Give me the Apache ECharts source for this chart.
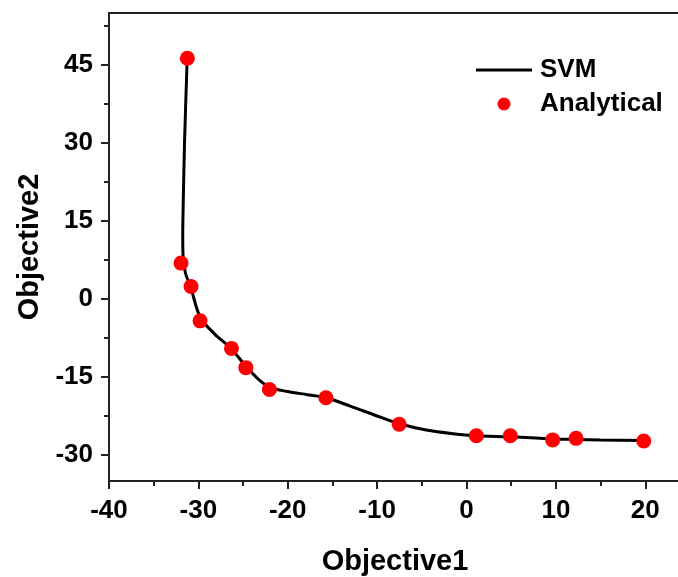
<!DOCTYPE html>
<html>
<head>
<meta charset="utf-8">
<script src="https://cdn.jsdelivr.net/npm/echarts@6/dist/echarts.min.js"></script>
<style>
  html, body { margin: 0; padding: 0; background: #fff; }
  #main { width: 678px; height: 577px; }
</style>
</head>
<body>
<div id="main"></div>
<script>
// analytical pareto points
var analyticalX = [-31.23, -31.94, -30.82, -29.81, -26.3, -24.69, -22.05, -15.73, -7.53, 1.1, 4.9, 9.64, 12.26, 19.83];
var analyticalY = [46.3, 6.9, 2.4, -4.2, -9.5, -13.2, -17.4, -19.0, -24.1, -26.3, -26.3, -27.1, -26.8, -27.3];

// SVM front
var svmX = [-31.25, -31.55, -31.7, -31.75, -31.7, -31.45, -30.85, -29.8, -28.2, -26.3, -24.7, -23.3, -22.0, -20.0, -17.8, -15.7, -13.0, -10.0, -7.5, -4.5, -1.5, 1.1, 4.9, 9.6, 12.3, 15.0, 19.8];
var svmY = [46.3, 30.0, 18.0, 12.0, 8.0, 5.0, 2.2, -3.5, -6.7, -9.6, -12.9, -15.4, -17.0, -17.8, -18.4, -19.0, -20.6, -22.5, -24.0, -25.2, -25.9, -26.3, -26.5, -26.9, -27.0, -27.1, -27.2];

var xTicks = [-40, -30, -20, -10, 0, 10, 20];
var xMinor = [-35, -25, -15, -5, 5, 15];
var yTicks = [-30, -15, 0, 15, 30, 45];
var yMinor = [-22.5, -7.5, 7.5, 22.5, 37.5, 52.5];

var chart = echarts.init(document.getElementById('main'));

var axisColor = '#222';
var tickFont = { fontFamily: 'Liberation Sans', fontWeight: 'bold', fontSize: 26, color: '#000' };
var titleFont = { fontFamily: 'Liberation Sans', fontWeight: 'bold', fontSize: 29, color: '#000' };

function pairs(xs, ys) {
  return xs.map(function (x, i) { return [x, ys[i]]; });
}

chart.setOption({
  animation: false,
  backgroundColor: '#fff',
  grid: { left: 109, top: 13, bottom: 96, right: -3, containLabel: false, outerBoundsMode: 'none' },
  legend: {
    orient: 'vertical',
    left: 471,
    top: 52,
    itemWidth: 56,
    itemHeight: 13,
    itemGap: 8,
    textStyle: { fontFamily: 'Liberation Sans', fontWeight: 'bold', fontSize: 26, color: '#000', lineHeight: 26, padding: [0, 0, 0, 3] },
    data: [
      { name: 'SVM', icon: 'path://M0,0L56,0L56,3L0,3Z', itemStyle: { color: '#000' } },
      { name: 'Analytical', icon: 'circle', itemStyle: { color: '#ff0000' } }
    ]
  },
  xAxis: [
    {
      type: 'value', min: -40, max: 24, position: 'bottom',
      name: 'Objective1', nameLocation: 'middle', nameGap: 66, nameTextStyle: titleFont,
      axisLine: { onZero: false, lineStyle: { color: axisColor, width: 2 } },
      axisTick: { customValues: xTicks, length: 8, lineStyle: { color: axisColor, width: 2 } },
      axisLabel: { customValues: xTicks, margin: 17, textStyle: tickFont },
      splitLine: { show: false }
    },
    {
      type: 'value', min: -40, max: 24, position: 'bottom',
      axisLine: { show: false, onZero: false },
      axisTick: { customValues: xMinor, length: 5, lineStyle: { color: axisColor, width: 2 } },
      axisLabel: { show: false },
      splitLine: { show: false }
    },
    {
      type: 'value', min: -40, max: 24, position: 'top',
      axisLine: { onZero: false, lineStyle: { color: axisColor, width: 2 } },
      axisTick: { show: false },
      axisLabel: { show: false },
      splitLine: { show: false }
    }
  ],
  yAxis: [
    {
      type: 'value', min: -35, max: 55, position: 'left',
      name: 'Objective2', nameLocation: 'middle', nameGap: 59, nameTextStyle: titleFont,
      axisLine: { onZero: false, lineStyle: { color: axisColor, width: 2 } },
      axisTick: { customValues: yTicks, length: 8, lineStyle: { color: axisColor, width: 2 } },
      axisLabel: { customValues: yTicks, margin: 16, textStyle: tickFont },
      splitLine: { show: false }
    },
    {
      type: 'value', min: -35, max: 55, position: 'left',
      axisLine: { show: false, onZero: false },
      axisTick: { customValues: yMinor, length: 5, lineStyle: { color: axisColor, width: 2 } },
      axisLabel: { show: false },
      splitLine: { show: false }
    }
  ],
  series: [
    {
      name: 'SVM',
      type: 'line',
      xAxisIndex: 0,
      yAxisIndex: 0,
      data: pairs(svmX, svmY),
      smooth: 0.3,
      showSymbol: false,
      lineStyle: { color: '#000', width: 3 },
      itemStyle: { color: '#000' },
      z: 2
    },
    {
      name: 'Analytical',
      type: 'scatter',
      xAxisIndex: 0,
      yAxisIndex: 0,
      data: pairs(analyticalX, analyticalY),
      symbol: 'circle',
      symbolSize: 15,
      itemStyle: { color: '#ff0000', opacity: 1 },
      z: 3
    }
  ]
});
</script>
</body>
</html>
